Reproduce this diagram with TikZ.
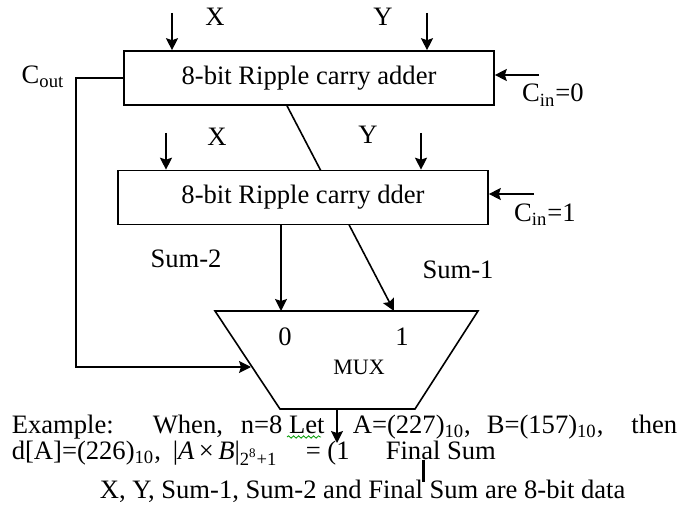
\documentclass[tikz,border=0pt]{standalone}
\usepackage{fontspec}
\setmainfont{Liberation Serif}
\usetikzlibrary{arrows.meta, decorations.pathmorphing}

\begin{document}
\begin{tikzpicture}[>={Stealth[length=6pt, width=6pt, inset=1pt]}, line width=0.8pt, x=0.5pt, y=-0.5pt,
    every node/.style={font=\fontsize{13.3}{16}\selectfont},
    blocco/.style={draw, fill=white, minimum width=185pt, minimum height=27pt, inner sep=0pt},
    testo/.style={anchor=base west, inner sep=0pt}]
        \useasboundingbox (0,0) rectangle (686,508);

        % Angoli del multiplexer
        \coordinate (mTL) at (215,311);
        \coordinate (mTR) at (478,311);
        \coordinate (mBR) at (415,409);
        \coordinate (mBL) at (280,409);
        \coordinate (muxInA) at (281,311);
        \coordinate (muxInB) at (394,311);
        \coordinate (muxSel) at (251,367);
        \coordinate (muxOut) at (337,409);

        % Sommatore con C_in = 0
        \node[blocco] (addA) at (309,78) {8-bit Ripple carry adder};

        % Sum-1 passa dietro il secondo sommatore
        \draw[->] (addA.south -| 287,0) -- (muxInB);

        % Sommatore con C_in = 1
        \node[blocco] (addB) at (303,197.5) {8-bit Ripple carry dder};

        % Ingressi X e Y
        \coordinate (xA) at (172,13);
        \coordinate (yA) at (427,13);
        \coordinate (xB) at (166,133);
        \coordinate (yB) at (421,133);
        \draw[->] (xA) -- (xA |- addA.north);
        \draw[->] (yA) -- (yA |- addA.north);
        \draw[->] (xB) -- (xB |- addB.north);
        \draw[->] (yB) -- (yB |- addB.north);
        \node (labXa) at (215,17) {X};
        \node (labYa) at (383,17) {Y};
        \node (labXb) at (217,137) {X};
        \node (labYb) at (368,135) {Y};

        % Riporti in ingresso
        \coordinate (cinA) at (539,75);
        \coordinate (cinB) at (534,194);
        \draw[->] (cinA) -- (cinA -| addA.east);
        \draw[->] (cinB) -- (cinB -| addB.east);
        \node (labCinA) at (553,95) {C\textsubscript{in}=0};
        \node (labCinB) at (545,215) {C\textsubscript{in}=1};

        % Riporto in uscita verso la selezione del MUX
        \coordinate (coutCorner) at (76,367);
        \draw[->] (addA.west) -| (coutCorner) -- (muxSel);
        \node (labCout) at (43,77) {C\textsubscript{out}};

        % Sum-2
        \draw[->] (addB.south -| muxInA) -- (muxInA);
        \node (labSumB) at (186,259) {Sum-2};
        \node (labSumA) at (458,270) {Sum-1};

        % Multiplexer
        \draw (mTL) -- (mTR) -- (mBR) -- (mBL) -- cycle;
        \node (selZero) at (285,337) {0};
        \node (selOne) at (402,337) {1};
        \node[font=\fontsize{11}{13}\selectfont] (muxLab) at (359,367) {MUX};

        % Uscita
        \coordinate (outTip) at (337,443);
        \draw[->] (muxOut) -- (outTip);

        % Testo sotto la figura
        \node[testo] (exA) at (11,433) {Example:};
        \node[testo] (exB) at (152,433) {When,};
        \node[testo] (exC) at (240,433) {n=8 Let};
        \node[testo] (exD) at (352,433) {A=(227)\textsubscript{10},};
        \node[testo] (exE) at (486,433) {B=(157)\textsubscript{10},};
        \node[testo, anchor=base east] (exF) at (678,433) {then};
        \draw[green!60!black, line width=0.4pt, decorate,
              decoration={snake, amplitude=0.6pt, segment length=2.5pt}] (287,437) -- (321,437);
        \node[testo] (dA) at (11,459) {d[A]=(226)\textsubscript{10},};
        \node[testo] (axb) at (172,459) {|\textit{A}\,×\,\textit{B}|\textsubscript{2\textsuperscript{8}+1}};
        \node[testo] (eqA) at (305,459) {= (1};
        \node[testo, fill=white] (finalSum) at (385,459) {Final Sum};
        \draw[line width=1.5pt] (423,460) -- (423,482);
        \node[testo] (nota) at (99,498) {X, Y, Sum-1, Sum-2 and Final Sum are 8-bit data};

    \end{tikzpicture}
\end{document}
